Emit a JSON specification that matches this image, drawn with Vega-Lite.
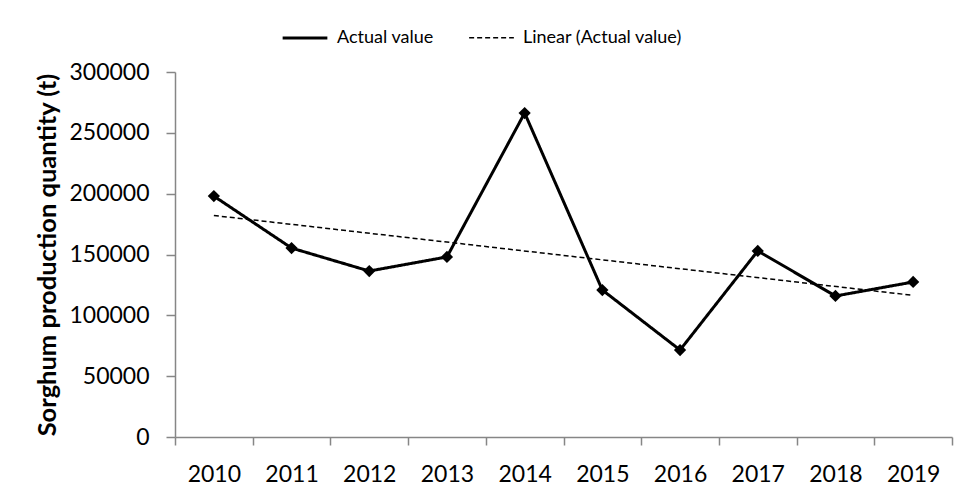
{
  "$schema": "https://vega.github.io/schema/vega-lite/v6.json",
  "autosize": "none",
  "width": 777,
  "height": 365,
  "padding": {"left": 175, "top": 72, "right": 11, "bottom": 61},
  "background": "white",
  "config": {
    "view": {"stroke": null},
    "font": "Lato",
    "axis": {"grid": false, "domainColor": "#868686", "tickColor": "#868686", "labelColor": "black", "titleColor": "black", "labelFont": "Lato", "titleFont": "Lato"}
  },
  "data": {
    "values": [
      {"year": "2010", "value": 198000, "series": "Actual value"},
      {"year": "2011", "value": 155300, "series": "Actual value"},
      {"year": "2012", "value": 136400, "series": "Actual value"},
      {"year": "2013", "value": 148000, "series": "Actual value"},
      {"year": "2014", "value": 266300, "series": "Actual value"},
      {"year": "2015", "value": 120800, "series": "Actual value"},
      {"year": "2016", "value": 71500, "series": "Actual value"},
      {"year": "2017", "value": 152900, "series": "Actual value"},
      {"year": "2018", "value": 115900, "series": "Actual value"},
      {"year": "2019", "value": 127400, "series": "Actual value"},
      {"year": "2010", "value": 182078, "series": "Linear (Actual value)"},
      {"year": "2019", "value": 116422, "series": "Linear (Actual value)"}
    ]
  },
  "encoding": {
    "x": {
      "field": "year", "type": "ordinal",
      "scale": {"type": "band", "paddingInner": 0, "paddingOuter": 0, "domain": ["2010","2011","2012","2013","2014","2015","2016","2017","2018","2019"]},
      "axis": {"title": null, "labelAngle": 0, "labelFontSize": 23, "tickBand": "extent", "tickSize": 8, "labelPadding": 18, "domainWidth": 1.5, "tickWidth": 1.5}
    },
    "y": {
      "field": "value", "type": "quantitative",
      "scale": {"domain": [0, 300000], "nice": false},
      "axis": {"title": "Sorghum production quantity (t)", "titleFontSize": 25.5, "titleFontWeight": "bold", "titlePadding": 8, "values": [0, 50000, 100000, 150000, 200000, 250000, 300000], "format": "d", "labelFontSize": 23, "tickSize": 9, "labelPadding": 17, "domainWidth": 1.5, "tickWidth": 1.5}
    }
  },
  "layer": [
    {
      "mark": {"type": "line", "color": "black", "strokeJoin": "round"},
      "encoding": {
        "strokeDash": {
          "field": "series", "type": "nominal",
          "scale": {"domain": ["Actual value", "Linear (Actual value)"], "range": [[1, 0], [5, 3]]},
          "legend": {"title": null, "orient": "none", "legendX": 106, "legendY": -58, "direction": "horizontal", "symbolType": "stroke", "symbolSize": 2000, "labelFontSize": 18, "labelColor": "black", "columnPadding": 32, "symbolStrokeColor": "black", "labelOffset": 8}
        },
        "strokeWidth": {
          "field": "series", "type": "nominal",
          "scale": {"domain": ["Actual value", "Linear (Actual value)"], "range": [3, 1.5]},
          "legend": {"title": null, "orient": "none", "legendX": 106, "legendY": -58, "direction": "horizontal", "symbolType": "stroke", "symbolSize": 2000, "labelFontSize": 18, "labelColor": "black", "columnPadding": 32, "symbolStrokeColor": "black", "labelOffset": 8}
        }
      }
    },
    {
      "transform": [{"filter": "datum.series === 'Actual value'"}],
      "mark": {"type": "point", "shape": "diamond", "filled": true, "color": "black", "size": 150, "opacity": 1}
    }
  ]
}
